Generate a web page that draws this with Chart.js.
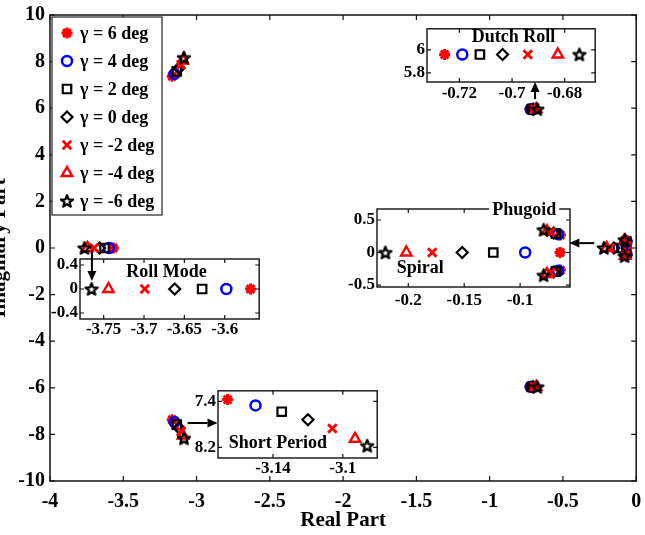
<!DOCTYPE html>
<html><head><meta charset="utf-8">
<script src="https://cdn.jsdelivr.net/npm/chart.js@4/dist/chart.umd.min.js"></script>
<style>
html,body{margin:0;padding:0;background:#fff;}
#wrap{position:relative;width:645px;height:535px;overflow:hidden;background:#fff;}
canvas{position:absolute;}
</style></head><body>
<div id="wrap">
<canvas id="main" width="645" height="535" style="left:0;top:0;width:645px;height:535px"></canvas>
<canvas id="dutch"></canvas>
<canvas id="phugoid"></canvas>
<canvas id="roll"></canvas>
<canvas id="short"></canvas>
</div>
<script>
// ---------- data (order: 6, 4, 2, 0, -2, -4, -6 deg) ----------
const gammaLabels = ['γ = 6 deg','γ = 4 deg','γ = 2 deg','γ = 0 deg','γ = -2 deg','γ = -4 deg','γ = -6 deg'];
const rollReal   = [-3.568, -3.598, -3.628, -3.662, -3.699, -3.744, -3.765];
const spReal     = [-3.166, -3.150, -3.135, -3.120, -3.106, -3.093, -3.086];
const spImag     = [7.37, 7.47, 7.58, 7.72, 7.87, 8.05, 8.17];
const drReal     = [-0.7256, -0.7189, -0.7122, -0.7036, -0.6940, -0.6826, -0.6744];
const drImag     = [5.96, 5.96, 5.96, 5.96, 5.96, 5.96, 5.96];
const phReal     = [-0.064, -0.066, -0.068, -0.070, -0.073, -0.076, -0.079];
const phImag     = [0.27, 0.28, 0.29, 0.30, 0.31, 0.33, 0.35];
const spiralReal = [-0.0643, -0.0955, -0.124, -0.1518, -0.1786, -0.2018, -0.2205];

const mainXTicks  = [-4, -3.5, -3, -2.5, -2, -1.5, -1, -0.5, 0];
const mainYTicks  = [-10, -8, -6, -4, -2, 0, 2, 4, 6, 8, 10];
const dutchXTicks = [-0.72, -0.7, -0.68];
const dutchYTicks = [5.8, 6];
const phugXTicks  = [-0.2, -0.15, -0.1];
const phugYTicks  = [-0.5, 0, 0.5];
const rollXTicks  = [-3.75, -3.7, -3.65, -3.6];
const rollYTicks  = [-0.4, 0, 0.4];
const spXTicks    = [-3.14, -3.1];
const spYTicks    = [7.4, 8.2];

// ---------- styling ----------
const SERIF = "'Liberation Serif','Times New Roman',serif";
function makePentagram(){
  const c = document.createElement('canvas'); c.width = 16; c.height = 16;
  const g = c.getContext('2d'); g.translate(8, 8.5);
  g.beginPath();
  for (let k = 0; k < 10; k++){
    const R = k % 2 === 0 ? 6.3 : 2.7;
    const a = -Math.PI/2 + k*Math.PI/5;
    const px = R*Math.cos(a), py = R*Math.sin(a);
    if (k) g.lineTo(px, py); else g.moveTo(px, py);
  }
  g.closePath(); g.lineWidth = 2.3; g.lineJoin = 'round'; g.strokeStyle = '#000'; g.stroke();
  return c;
}
const pent = makePentagram();
const markerStyles = [
  {s:'star',     c:'#ff0000', r:5.5, bw:3},
  {s:'circle',   c:'#0000ff', r:5,   bw:2.5},
  {s:'rect',     c:'#000000', r:6,   bw:2.2},
  {s:'rectRot',  c:'#000000', r:5.5, bw:2.2},
  {s:'crossRot', c:'#ff0000', r:6,   bw:2.8},
  {s:'triangle', c:'#ff0000', r:6,   bw:2.4},
  {s:pent,       c:'#000000', r:6,   bw:0}
];

function pointsFor(i){
  return [
    {x: rollReal[i], y: 0},
    {x: spReal[i], y: spImag[i]}, {x: spReal[i], y: -spImag[i]},
    {x: drReal[i], y: drImag[i]}, {x: drReal[i], y: -drImag[i]},
    {x: phReal[i], y: phImag[i]}, {x: phReal[i], y: -phImag[i]},
    {x: spiralReal[i], y: 0}
  ];
}
function makeDatasets(){
  const n = gammaLabels.length;
  return gammaLabels.map((lab, i) => ({
    label: lab, data: pointsFor(i), showLine: false,
    pointStyle: markerStyles[i].s, pointRadius: markerStyles[i].r, pointHoverRadius: markerStyles[i].r,
    pointBorderColor: markerStyles[i].c, borderColor: markerStyles[i].c,
    pointBackgroundColor: 'rgba(0,0,0,0)', backgroundColor: 'rgba(0,0,0,0)',
    pointBorderWidth: markerStyles[i].bw, borderWidth: markerStyles[i].bw,
    order: n - 1 - i
  }));
}
const fmt = v => String(Math.round(v*10000)/10000);

function drawMarker(ctx, i, x, y){
  const m = markerStyles[i];
  ctx.save();
  ctx.strokeStyle = m.c; ctx.fillStyle = 'rgba(0,0,0,0)'; ctx.lineWidth = m.bw;
  if (Chart.helpers && Chart.helpers.drawPoint){
    Chart.helpers.drawPoint(ctx, {pointStyle: m.s, rotation: 0, radius: m.r, borderWidth: m.bw}, x, y);
  } else {
    ctx.beginPath(); ctx.arc(x, y, m.r, 0, Math.PI*2); ctx.stroke();
  }
  ctx.restore();
}

const framePlugin = {
  id: 'frame',
  afterDraw(chart, args, o){
    const {ctx, chartArea: a} = chart; const sx = chart.scales.x, sy = chart.scales.y;
    ctx.save(); ctx.strokeStyle = '#111'; ctx.lineWidth = o.lw;
    ctx.strokeRect(a.left, a.top, a.right - a.left, a.bottom - a.top);
    const L = o.len; ctx.beginPath();
    sx.ticks.forEach(t => { const p = sx.getPixelForValue(t.value);
      ctx.moveTo(p, a.bottom); ctx.lineTo(p, a.bottom - L); ctx.moveTo(p, a.top); ctx.lineTo(p, a.top + L); });
    sy.ticks.forEach(t => { const p = sy.getPixelForValue(t.value);
      ctx.moveTo(a.left, p); ctx.lineTo(a.left + L, p); ctx.moveTo(a.right, p); ctx.lineTo(a.right - L, p); });
    ctx.lineWidth = 1.2; ctx.stroke(); ctx.restore();
  }
};
const whiteBg = {
  id: 'whiteBg',
  beforeDraw(chart){ const {ctx, chartArea: a} = chart; ctx.save(); ctx.fillStyle = '#fff';
    ctx.fillRect(a.left, a.top, a.right - a.left, a.bottom - a.top); ctx.restore(); }
};
const legendBox = {
  id: 'legendBox',
  afterDraw(chart, args, o){
    const {ctx, chartArea: a} = chart;
    const x0 = a.left + o.dx, y0 = a.top + o.dy;
    ctx.save(); ctx.fillStyle = '#fff'; ctx.fillRect(x0, y0, o.w, o.h);
    ctx.strokeStyle = '#333'; ctx.lineWidth = 1.3; ctx.strokeRect(x0, y0, o.w, o.h);
    ctx.font = 'bold 18px ' + SERIF; ctx.textBaseline = 'middle'; ctx.textAlign = 'left'; 
    chart.data.datasets.forEach((ds, i) => {
      const cy = y0 + o.first + i*o.step;
      drawMarker(ctx, i, x0 + o.mx, cy);
      ctx.fillStyle = '#000'; ctx.fillText(ds.label, x0 + o.tx, cy + 1);
    });
    ctx.restore();
  }
};
let mainChart = null;
function drawArrow(ctx, x1, y1, x2, y2){
  const ang = Math.atan2(y2 - y1, x2 - x1), hl = 10, hw = 4.5;
  const bx = x2 - hl*Math.cos(ang), by = y2 - hl*Math.sin(ang);
  ctx.save(); ctx.strokeStyle = '#000'; ctx.fillStyle = '#000'; ctx.lineWidth = 2;
  ctx.beginPath(); ctx.moveTo(x1, y1); ctx.lineTo(bx, by); ctx.stroke();
  ctx.beginPath(); ctx.moveTo(x2, y2);
  ctx.lineTo(bx + hw*Math.sin(ang), by - hw*Math.cos(ang));
  ctx.lineTo(bx - hw*Math.sin(ang), by + hw*Math.cos(ang));
  ctx.closePath(); ctx.fill(); ctx.restore();
}
const notesPlugin = {
  id: 'notes',
  afterDraw(chart, args, o){
    const ctx = chart.ctx, sx = chart.scales.x, sy = chart.scales.y;
    ctx.save(); ctx.font = 'bold 18px ' + SERIF; ctx.textAlign = 'center'; ctx.textBaseline = 'middle';
    (o.items || []).forEach(n => {
      const px = sx.getPixelForValue(n.x), py = sy.getPixelForValue(n.y);
      if (n.bg){ const w = ctx.measureText(n.t).width; ctx.fillStyle = '#fff'; ctx.fillRect(px - w/2 - 3, py - 9, w + 6, 18); }
      ctx.fillStyle = '#000'; ctx.fillText(n.t, px, py + 1);
    });
    if (o.arrow && mainChart){
      const mx = mainChart.scales.x, my = mainChart.scales.y;
      drawArrow(ctx,
        mx.getPixelForValue(o.arrow[0]) - o.ox, my.getPixelForValue(o.arrow[1]) - o.oy,
        mx.getPixelForValue(o.arrow[2]) - o.ox, my.getPixelForValue(o.arrow[3]) - o.oy);
    }
    ctx.restore();
  }
};

// ---------- main chart ----------
mainChart = new Chart(document.getElementById('main'), {
  type: 'scatter',
  data: { datasets: makeDatasets() },
  options: {
    responsive: false, animation: false, events: [],
    layout: { padding: { left: 0, top: 15, right: 7, bottom: 0 } },
    plugins: {
      legend: { display: false }, tooltip: { enabled: false },
      frame: { lw: 1.5, len: 5 },
      legendBox: { dx: 2, dy: 2, w: 110, h: 198, first: 16, step: 28, mx: 15, tx: 28 }
    },
    scales: {
      x: {
        type: 'linear', min: -4, max: 0,
        grid: { display: false, drawTicks: false }, border: { display: false },
        afterBuildTicks: s => { s.ticks = mainXTicks.map(v => ({ value: v })); },
        afterFit: s => { s.height = 54; s.paddingLeft = 0; s.paddingRight = 0; },
        ticks: { padding: 9, autoSkip: false, maxRotation: 0, minRotation: 0, color: '#000',
          font: { family: SERIF, size: 20, weight: 'bold' }, callback: fmt },
        title: { display: true, text: 'Real Part', color: '#000',
          font: { family: SERIF, size: 21, weight: 'bold' }, padding: { top: 0, bottom: 2 } }
      },
      y: {
        type: 'linear', min: -10, max: 10,
        grid: { display: false, drawTicks: false }, border: { display: false },
        afterBuildTicks: s => { s.ticks = mainYTicks.map(v => ({ value: v })); },
        afterFit: s => { s.width = 50; s.paddingTop = 0; s.paddingBottom = 0; },
        ticks: { padding: 5, autoSkip: false, color: '#000',
          font: { family: SERIF, size: 20, weight: 'bold' }, callback: fmt },
        title: { display: true, text: 'Imaginary Part', color: '#000',
          font: { family: SERIF, size: 21, weight: 'bold' }, padding: { top: -13, bottom: 0 } }
      }
    }
  },
  plugins: [framePlugin, legendBox]
});

// ---------- insets ----------
const insetDefs = [
  { id: 'dutch', box: [427, 24, 598, 82], m: [32, 4, 6, 24], xr: [-0.7323, -0.6684], yr: [5.72, 6.184],
    xt: dutchXTicks, yt: dutchYTicks, rev: false, xpad: 1, ypad: 2,
    notes: [{ t: 'Dutch Roll', x: -0.6994, y: 6.12 }], arrow: [-0.69, 6.39, -0.69, 7.12] },
  { id: 'phugoid', box: [377, 209, 570, 287], m: [40, 14, 32, 24], xr: [-0.228, -0.0554], yr: [-0.53, 0.669],
    xt: phugXTicks, yt: phugYTicks, rev: false, xpad: 3, ypad: 2,
    notes: [{ t: 'Phugoid', x: -0.0964, y: 0.669, bg: true }, { t: 'Spiral', x: -0.1893, y: -0.23 }],
    arrow: [-0.286, 0.21, -0.456, 0.21] },
  { id: 'roll', box: [80, 259, 262, 319], m: [40, 16, 6, 24], xr: [-3.7793, -3.5573], yr: [-0.5, 0.5],
    xt: rollXTicks, yt: rollYTicks, rev: false, xpad: 0, ypad: 2,
    notes: [{ t: 'Roll Mode', x: -3.672, y: 0.30 }], arrow: [-3.714, -0.09, -3.714, -1.42] },
  { id: 'short', box: [218, 388, 380, 458], m: [36, 6, 6, 24], xr: [-3.1715, -3.0803], yr: [7.217, 8.383],
    xt: spXTicks, yt: spYTicks, rev: true, xpad: 0, ypad: 2,
    notes: [{ t: 'Short Period', x: -3.1372, y: 8.117 }], arrow: [-3.061, -7.51, -2.857, -7.51] }
];

insetDefs.forEach(d => {
  const cv = document.getElementById(d.id);
  const [bl, bt, br, bb] = d.box, [ml, mt, mr, mb] = d.m;
  const W = br - bl + ml + mr, H = bb - bt + mt + mb;
  cv.width = W; cv.height = H;
  cv.style.left = (bl - ml) + 'px'; cv.style.top = (bt - mt) + 'px';
  cv.style.width = W + 'px'; cv.style.height = H + 'px';
  new Chart(cv, {
    type: 'scatter',
    data: { datasets: makeDatasets() },
    options: {
      responsive: false, animation: false, events: [],
      layout: { padding: { left: 0, top: mt, right: mr, bottom: 0 } },
      plugins: {
        legend: { display: false }, tooltip: { enabled: false },
        frame: { lw: 1.4, len: 4 },
        notes: { items: d.notes, arrow: d.arrow, ox: bl - ml, oy: bt - mt }
      },
      scales: {
        x: {
          type: 'linear', min: d.xr[0], max: d.xr[1],
          grid: { display: false, drawTicks: false }, border: { display: false },
          afterBuildTicks: s => { s.ticks = d.xt.map(v => ({ value: v })); },
          afterFit: s => { s.height = mb; s.paddingLeft = 0; s.paddingRight = 0; },
          ticks: { padding: d.xpad, autoSkip: false, maxRotation: 0, minRotation: 0, color: '#000',
            font: { family: SERIF, size: 17, weight: 'bold' }, callback: fmt }
        },
        y: {
          type: 'linear', min: d.yr[0], max: d.yr[1], reverse: d.rev,
          grid: { display: false, drawTicks: false }, border: { display: false },
          afterBuildTicks: s => { s.ticks = d.yt.map(v => ({ value: v })); },
          afterFit: s => { s.width = ml; s.paddingTop = 0; s.paddingBottom = 0; },
          ticks: { padding: d.ypad, autoSkip: false, color: '#000',
            font: { family: SERIF, size: 17, weight: 'bold' }, callback: fmt }
        }
      }
    },
    plugins: [whiteBg, framePlugin, notesPlugin]
  });
});
</script>
</body></html>
